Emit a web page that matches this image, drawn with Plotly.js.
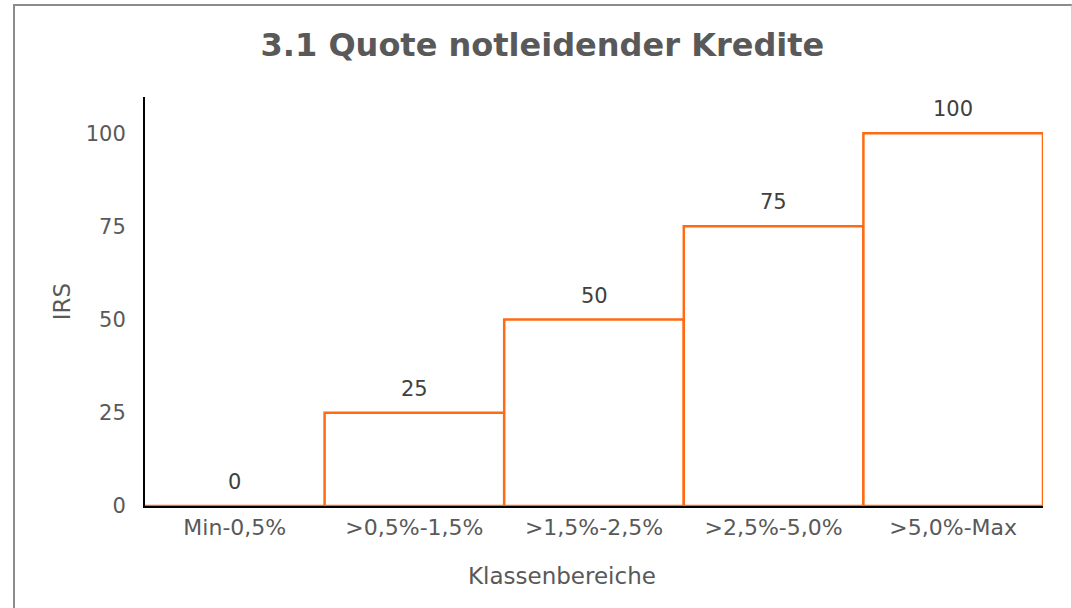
<!DOCTYPE html>
<html>
<head>
<meta charset="utf-8">
<script src="https://cdn.plot.ly/plotly-3.0.1.min.js"></script>
<style>
  html, body { margin: 0; padding: 0; background: #fff; overflow: hidden; }
  #chart { position: absolute; left: 0; top: 0; width: 1072px; height: 608px; }
  #frame {
    position: absolute; left: 13px; top: 4px; width: 1056px; height: 640px;
    border: 2px solid #8c8c8c; border-right: 2px solid #d0d0d0;
    pointer-events: none;
  }
</style>
</head>
<body>
<div id="chart"></div>
<div id="frame"></div>
<script>
/* ---- data ---- */
const CLASSES = ['Min-0,5%', '>0,5%-1,5%', '>1,5%-2,5%', '>2,5%-5,0%', '>5,0%-Max'];
const IRS = [0, 25, 50, 75, 100];
const Y_TICKS = [0, 25, 50, 75, 100];

const ORANGE = '#ff6a13';
const TEXT_GREY = '#595959';
const FONT = 'DejaVu Sans, Verdana, sans-serif';

const trace = {
  x: CLASSES,
  y: IRS,
  type: 'bar',
  marker: { color: '#ffffff', line: { color: ORANGE, width: 2.5 } },
  hoverinfo: 'x+y',
};

// value labels sit ~24px above each bar top
const labels = CLASSES.map((c, i) => ({
  x: c, y: IRS[i], xref: 'x', yref: 'y',
  text: String(IRS[i]), showarrow: false,
  yanchor: 'bottom', yshift: 10,
  font: { family: FONT, size: 21, color: '#404040' },
}));

labels.push({
  x: 0.464, y: -0.172, xref: 'paper', yref: 'paper',
  text: 'Klassenbereiche', showarrow: false,
  xanchor: 'center', yanchor: 'middle',
  font: { family: FONT, size: 23, color: TEXT_GREY },
});

const layout = {
  width: 1072,
  height: 608,
  paper_bgcolor: 'rgba(0,0,0,0)',
  plot_bgcolor: 'rgba(0,0,0,0)',
  font: { family: FONT, size: 21, color: TEXT_GREY },
  margin: { l: 145, r: 29, t: 97, b: 102 },
  title: {
    text: '<b>3.1 Quote notleidender Kredite</b>',
    font: { family: FONT, size: 32, color: TEXT_GREY },
    x: 0.506, xref: 'container', xanchor: 'center',
    y: 0.926, yref: 'container', yanchor: 'middle',
  },
  bargap: 0,
  showlegend: false,
  xaxis: {
    showline: true, linecolor: '#000', linewidth: 2,
    showgrid: false, zeroline: false, ticks: '',
    ticklabelstandoff: 1,
    tickfont: { family: FONT, size: 22, color: TEXT_GREY },
  },
  yaxis: {
    range: [0, 109.7],
    tickvals: Y_TICKS,
    showline: true, linecolor: '#000', linewidth: 2,
    showgrid: false, zeroline: false, ticks: '',
    ticklabelstandoff: 13,
    tickfont: { family: FONT, size: 21, color: TEXT_GREY },
    title: { text: 'IRS', standoff: 9, font: { family: FONT, size: 23, color: TEXT_GREY } },
  },
  annotations: labels,
};

Plotly.newPlot('chart', [trace], layout, { displayModeBar: false, staticPlot: true });
</script>
</body>
</html>
